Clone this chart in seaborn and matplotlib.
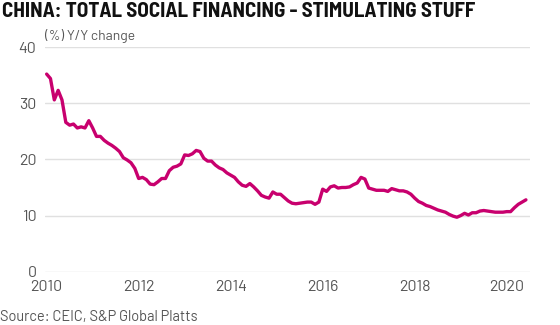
import numpy as np
import pandas as pd
import matplotlib
matplotlib.use("Agg")
import matplotlib.pyplot as plt
import seaborn as sns

# Monthly year-on-year growth of total social financing (%), Jan 2010 - Jun 2020
start_year = 2010
values = [
    35.2, 34.4, 30.6, 32.3, 30.6, 26.6, 26.1, 26.3, 25.6, 25.8, 25.6, 26.9,  # 2010
    25.6, 24.1, 24.1, 23.4, 22.9, 22.5, 22.0, 21.4, 20.3, 19.9, 19.4, 18.4,  # 2011
    16.6, 16.8, 16.4, 15.6, 15.5, 16.0, 16.6, 16.6, 18.0, 18.6, 18.8, 19.2,  # 2012
    20.8, 20.7, 21.0, 21.6, 21.4, 20.2, 19.7, 19.7, 19.0, 18.5, 18.2, 17.6,  # 2013
    17.2, 16.8, 16.0, 15.4, 15.2, 15.7, 15.1, 14.4, 13.6, 13.3, 13.1, 14.2,  # 2014
    13.8, 13.8, 13.2, 12.6, 12.2, 12.1, 12.2, 12.3, 12.4, 12.4, 12.0, 12.4,  # 2015
    14.7, 14.3, 15.1, 15.3, 14.9, 15.0, 15.0, 15.1, 15.5, 15.8, 16.8, 16.5,  # 2016
    14.9, 14.7, 14.5, 14.5, 14.5, 14.3, 14.8, 14.6, 14.4, 14.4, 14.2, 13.8,  # 2017
    13.1, 12.5, 12.2, 11.8, 11.6, 11.3, 11.0, 10.8, 10.6, 10.2, 9.9, 9.7,    # 2018
    10.0, 10.4, 10.1, 10.5, 10.5, 10.8, 10.9, 10.8, 10.7, 10.6, 10.6, 10.6,  # 2019
    10.7, 10.7, 11.4, 12.0, 12.4, 12.8,                                      # 2020
]
x_ticks = [2010, 2012, 2014, 2016, 2018, 2020]
y_ticks = [0, 10, 20, 30, 40]

title = "CHINA: TOTAL SOCIAL FINANCING - STIMULATING STUFF"
unit_label = "(%) Y/Y change"
source = "Source: CEIC, S&P Global Platts"

df = pd.DataFrame({
    "year": start_year + np.arange(len(values)) / 12.0,
    "growth": values,
})

sns.set_theme(style="white")
plt.rcParams["font.family"] = ["Barlow", "Barlow Semi Condensed", "DejaVu Sans"]

fig = plt.figure(figsize=(5.6, 3.25), dpi=100)
ax = fig.add_axes([0.080, 0.164, 0.866, 0.691])

sns.lineplot(data=df, x="year", y="growth", ax=ax, color="#C8006E",
             linewidth=2.4, solid_joinstyle="round", solid_capstyle="round")

ax.set_xlim(2009.96, 2020.5)
ax.set_ylim(0, 40)
ax.set_xticks(x_ticks)
ax.set_yticks(y_ticks)
ax.set_xticklabels([str(t) for t in x_ticks])
ax.set_yticklabels([str(t) for t in y_ticks])
ax.grid(axis="y", color="#e0e0e0", linewidth=1.0)
ax.grid(axis="x", visible=False)
ax.set_axisbelow(True)
for s in ax.spines.values():
    s.set_visible(False)
ax.tick_params(axis="both", length=0, labelsize=11.5, labelcolor="#555555")
ax.tick_params(axis="y", pad=6)
ax.tick_params(axis="x", pad=6)
ax.set_xlabel("")
ax.set_ylabel("")

fig.text(0.004, 0.995, title, ha="left", va="top", fontsize=15.2,
         fontweight="bold", color="#111111",
         family=["Barlow Semi Condensed", "DejaVu Sans"])
fig.text(0.080, 0.89, unit_label, ha="left", va="center", fontsize=10,
         color="#555555", family=["Barlow", "DejaVu Sans"])
fig.text(0.0, 0.025, source, ha="left", va="center", fontsize=10.5,
         color="#555555", family=["Barlow", "DejaVu Sans"])

fig.savefig("out.png", dpi=100)
